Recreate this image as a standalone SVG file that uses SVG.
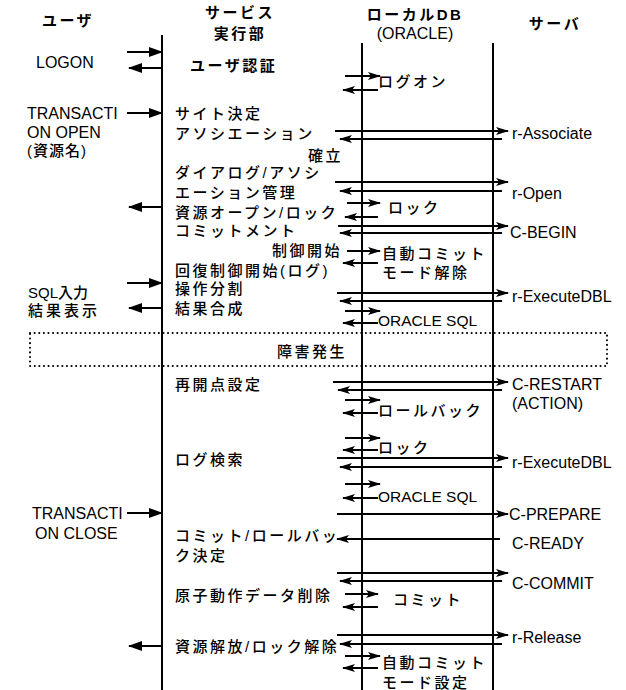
<svg xmlns="http://www.w3.org/2000/svg" width="626" height="690" viewBox="0 0 626 690">
<style>
text{font-family:"Liberation Sans","Noto Sans CJK JP",sans-serif;fill:#000;dominant-baseline:central}
.h{font-size:15px;font-weight:bold;letter-spacing:2.5px}
.j{font-size:15px;font-weight:500;letter-spacing:2.5px}
.e{font-size:16px}
.ue{font-size:16px}
.life{stroke:#000;stroke-width:2;fill:none}
.c{stroke:#000;stroke-width:2;fill:none;marker-end:url(#ah)}
.cb{stroke:#000;stroke-width:2;fill:none;marker-end:url(#ahb)}
.dot{stroke:#000;stroke-width:2;fill:none;stroke-dasharray:0.1 4.5;stroke-linecap:round}
</style>
<defs>
<marker id="ah" markerUnits="userSpaceOnUse" markerWidth="13" markerHeight="8" refX="12" refY="4" orient="auto">
<path d="M0,0 L13,4 L0,8 L3,4 z" fill="#000"/>
</marker>
<marker id="ahb" markerUnits="userSpaceOnUse" markerWidth="14" markerHeight="10" refX="13" refY="5" orient="auto">
<path d="M0,0 L14,5 L0,10 z" fill="#000"/>
</marker>
</defs>
<rect width="626" height="690" fill="#fff"/>

<g id="lifelines">
<line class="life" x1="162" y1="35" x2="162" y2="690"/>
<line class="life" x1="362" y1="43" x2="362" y2="690"/>
<line class="life" x1="493" y1="43" x2="493" y2="690"/>
</g>

<g id="headers">
<g id="h-user"><text class="h" x="68" y="20" text-anchor="middle">ユーザ</text></g>
<g id="h-service"><text class="h" x="240" y="12" text-anchor="middle">サービス</text><text class="h" x="240" y="33" text-anchor="middle">実行部</text></g>
<g id="h-localdb"><text class="h" x="415" y="14" text-anchor="middle">ローカルDB</text><text class="ue" x="415" y="33" text-anchor="middle">(ORACLE)</text></g>
<g id="h-server"><text class="h" x="555" y="23" text-anchor="middle">サーバ</text></g>
</g>

<g id="failure">
<rect class="dot" x="30" y="333" width="577" height="33"/>
<text class="j" x="312" y="351" text-anchor="middle">障害発生</text>
</g>

<g id="user-labels">
<g id="u-logon"><text class="ue" x="36" y="62">LOGON</text></g>
<g id="u-open"><text class="ue" x="27" y="113">TRANSACTI</text><text class="ue" x="27" y="132">ON OPEN</text><text class="j" x="27" y="150" style="letter-spacing:1px">(資源名)</text></g>
<g id="u-sql"><text class="j" x="28" y="292" style="letter-spacing:0">SQL入力</text><text class="j" x="28" y="310" style="letter-spacing:3px">結果表示</text></g>
<g id="u-close"><text class="ue" x="32" y="513">TRANSACTI</text><text class="ue" x="35" y="533">ON CLOSE</text></g>
</g>

<g id="service-labels">
<g id="s-auth"><text class="h" x="190" y="65">ユーザ認証</text></g>
<g id="s-site"><text class="j" x="175" y="113">サイト決定</text></g>
<g id="s-assoc"><text class="j" x="175" y="133">アソシエーション</text><text class="j" x="343" y="155" text-anchor="end">確立</text></g>
<g id="s-dialog"><text class="j" x="175" y="172">ダイアログ/アソシ</text><text class="j" x="175" y="192">エーション管理</text></g>
<g id="s-open"><text class="j" x="175" y="212">資源オープン/ロック</text></g>
<g id="s-commit"><text class="j" x="175" y="230">コミットメント</text></g>
<g id="s-ctrl"><text class="j" x="342" y="250" text-anchor="end">制御開始</text></g>
<g id="s-recover"><text class="j" x="175" y="270">回復制御開始(ログ)</text></g>
<g id="s-split"><text class="j" x="175" y="288">操作分割</text></g>
<g id="s-merge"><text class="j" x="175" y="308">結果合成</text></g>
<g id="s-restart"><text class="j" x="175" y="384">再開点設定</text></g>
<g id="s-logsearch"><text class="j" x="175" y="459">ログ検索</text></g>
<g id="s-decide"><text class="j" x="175" y="535">コミット/ロールバッ</text><text class="j" x="175" y="555">ク決定</text></g>
<g id="s-delete"><text class="j" x="175" y="595">原子動作データ削除</text></g>
<g id="s-release"><text class="j" x="175" y="646">資源解放/ロック解除</text></g>
</g>

<g id="db-labels">
<g id="d-logon"><text class="j" x="378" y="81">ログオン</text></g>
<g id="d-lock1"><text class="j" x="388" y="207">ロック</text></g>
<g id="d-auto1"><text class="j" x="382" y="253">自動コミット</text><text class="j" x="382" y="272">モード解除</text></g>
<g id="d-sql1"><text class="ue" x="378" y="320" style="font-size:15.5px">ORACLE SQL</text></g>
<g id="d-rollback"><text class="j" x="378" y="410">ロールバック</text></g>
<g id="d-lock2"><text class="j" x="378" y="447">ロック</text></g>
<g id="d-sql2"><text class="ue" x="378" y="496" style="font-size:15.5px">ORACLE SQL</text></g>
<g id="d-commit"><text class="j" x="393" y="599">コミット</text></g>
<g id="d-auto2"><text class="j" x="382" y="662">自動コミット</text><text class="j" x="382" y="682">モード設定</text></g>
</g>

<g id="server-labels">
<g id="v-assoc"><text class="e" x="512" y="133">r-Associate</text></g>
<g id="v-open"><text class="e" x="512" y="193">r-Open</text></g>
<g id="v-begin"><text class="e" x="510" y="232">C-BEGIN</text></g>
<g id="v-exec1"><text class="e" x="512" y="296">r-ExecuteDBL</text></g>
<g id="v-restart"><text class="e" x="512" y="384">C-RESTART</text><text class="e" x="512" y="403">(ACTION)</text></g>
<g id="v-exec2"><text class="e" x="512" y="462">r-ExecuteDBL</text></g>
<g id="v-prepare"><text class="e" x="509" y="514">C-PREPARE</text></g>
<g id="v-ready"><text class="e" x="512" y="543">C-READY</text></g>
<g id="v-commit"><text class="e" x="512" y="583">C-COMMIT</text></g>
<g id="v-release"><text class="e" x="512" y="637">r-Release</text></g>
</g>

<g id="connectors">
<line class="cb" x1="127" y1="52" x2="162" y2="52"/>
<line class="cb" x1="162" y1="68" x2="129" y2="68"/>
<line class="cb" x1="127" y1="113" x2="162" y2="113"/>
<line class="cb" x1="162" y1="207" x2="129" y2="207"/>
<line class="cb" x1="127" y1="283" x2="162" y2="283"/>
<line class="cb" x1="162" y1="308" x2="129" y2="308"/>
<line class="cb" x1="127" y1="513" x2="162" y2="513"/>
<line class="cb" x1="162" y1="646" x2="129" y2="646"/>
<line class="c" x1="345" y1="76" x2="380" y2="76"/>
<line class="c" x1="378" y1="90" x2="343" y2="90"/>
<line class="c" x1="347" y1="203" x2="380" y2="203"/>
<line class="c" x1="378" y1="217" x2="345" y2="217"/>
<line class="c" x1="347" y1="251" x2="380" y2="251"/>
<line class="c" x1="378" y1="263" x2="343" y2="263"/>
<line class="c" x1="345" y1="311" x2="380" y2="311"/>
<line class="c" x1="378" y1="323" x2="343" y2="323"/>
<line class="c" x1="345" y1="400" x2="380" y2="400"/>
<line class="c" x1="378" y1="413" x2="343" y2="413"/>
<line class="c" x1="345" y1="438" x2="380" y2="438"/>
<line class="c" x1="378" y1="450" x2="343" y2="450"/>
<line class="c" x1="345" y1="484" x2="380" y2="484"/>
<line class="c" x1="378" y1="498" x2="343" y2="498"/>
<line class="c" x1="345" y1="594" x2="378" y2="594"/>
<line class="c" x1="378" y1="607" x2="343" y2="607"/>
<line class="c" x1="345" y1="656" x2="380" y2="656"/>
<line class="c" x1="378" y1="668" x2="343" y2="668"/>
<line class="c" x1="335" y1="131" x2="508" y2="131"/>
<line class="c" x1="502" y1="139" x2="340" y2="139"/>
<line class="c" x1="335" y1="182" x2="508" y2="182"/>
<line class="c" x1="502" y1="191" x2="340" y2="191"/>
<line class="c" x1="338" y1="226" x2="508" y2="226"/>
<line class="c" x1="502" y1="233" x2="340" y2="233"/>
<line class="c" x1="337" y1="293" x2="508" y2="293"/>
<line class="c" x1="502" y1="301" x2="340" y2="301"/>
<line class="c" x1="333" y1="382" x2="508" y2="382"/>
<line class="c" x1="502" y1="390" x2="338" y2="390"/>
<line class="c" x1="337" y1="458" x2="508" y2="458"/>
<line class="c" x1="502" y1="467" x2="340" y2="467"/>
<line class="c" x1="337" y1="514" x2="508" y2="514"/>
<line class="c" x1="500" y1="539" x2="337" y2="539"/>
<line class="c" x1="337" y1="573" x2="508" y2="573"/>
<line class="c" x1="502" y1="581" x2="340" y2="581"/>
<line class="c" x1="337" y1="635" x2="508" y2="635"/>
<line class="c" x1="502" y1="644" x2="340" y2="644"/>
</g>
</svg>
